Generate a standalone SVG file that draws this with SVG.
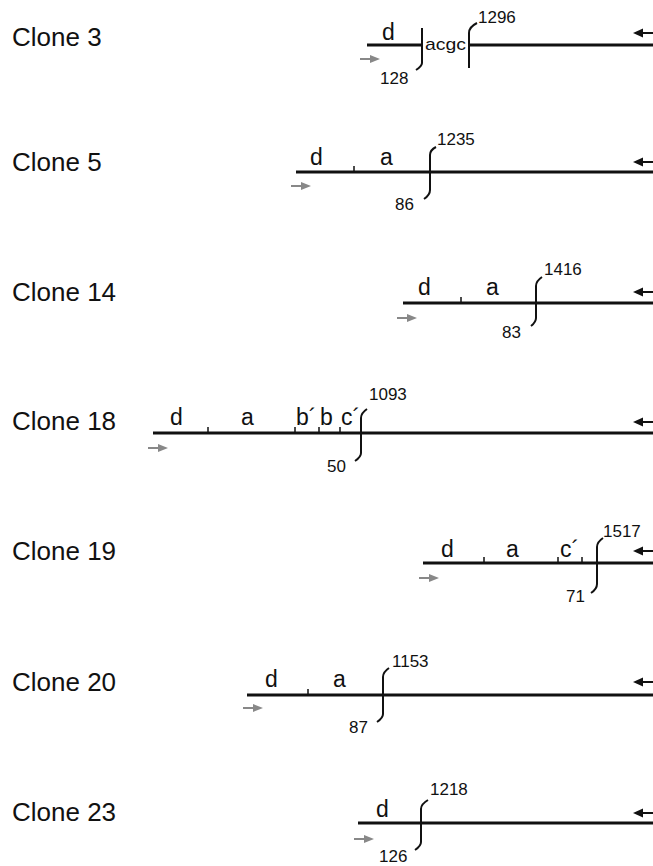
<svg xmlns="http://www.w3.org/2000/svg" xmlns:xlink="http://www.w3.org/1999/xlink" width="653" height="866" viewBox="0 0 653 866">
<style>
.lbl{font-family:"Liberation Sans",Arial,sans-serif;font-size:26px;fill:#111}
.seg{font-family:"Liberation Sans",Arial,sans-serif;font-size:23px;fill:#111}
.num{font-family:"Liberation Sans",Arial,sans-serif;font-size:17px;fill:#111}
.bb{fill:none;stroke:#111;stroke-width:3}
.tk{fill:none;stroke:#111;stroke-width:1.5}
.br{fill:none;stroke:#111;stroke-width:2}
</style>
<defs>
<g id="larr"><path d="M0,0 L10,-4.5 L10,4.5 Z" fill="#111"/><path d="M9,0 H20" stroke="#111" stroke-width="2"/></g>
<g id="rarr"><path d="M0,0 H11" stroke="#888" stroke-width="2"/><path d="M20,0 L10,-4 L10,4 Z" fill="#888"/></g>
</defs>
<rect width="653" height="866" fill="#fff"/>

<g id="clone3">
<text class="lbl" x="12" y="46">Clone 3</text>
<path class="bb" d="M367,45 H422 M469,45 H653"/>
<text class="seg" x="382" y="40">d</text>
<path class="br" d="M422,28 V63 Q422,66 416,70"/>
<text class="num" x="425" y="50" font-size="19" textLength="41" lengthAdjust="spacingAndGlyphs">acgc</text>
<path class="br" d="M477,23 Q469,27 469,33 V68"/>
<text class="num" x="478" y="23">1296</text>
<text class="num" x="380" y="84">128</text>
<use xlink:href="#rarr" x="360" y="59"/>
<use xlink:href="#larr" x="633" y="33"/>
</g>

<g id="clone5">
<text class="lbl" x="12" y="171">Clone 5</text>
<path class="bb" d="M296,172 H653"/>
<text class="seg" x="310" y="165">d</text>
<path class="tk" d="M354,172 V166"/>
<text class="seg" x="380" y="165">a</text>
<path class="br" d="M436,147 Q430,150 430,155 V190 Q430,195 424,199"/>
<text class="num" x="437" y="145">1235</text>
<text class="num" x="395" y="210">86</text>
<use xlink:href="#rarr" x="291" y="186"/>
<use xlink:href="#larr" x="633" y="162"/>
</g>

<g id="clone14">
<text class="lbl" x="12" y="301">Clone 14</text>
<path class="bb" d="M403,303 H653"/>
<text class="seg" x="418" y="295">d</text>
<path class="tk" d="M461,303 V297"/>
<text class="seg" x="486" y="295">a</text>
<path class="br" d="M542,277 Q536,281 536,286 V318 Q536,322 531,326"/>
<text class="num" x="544" y="275">1416</text>
<text class="num" x="502" y="338">83</text>
<use xlink:href="#rarr" x="397" y="318"/>
<use xlink:href="#larr" x="633" y="292"/>
</g>

<g id="clone18">
<text class="lbl" x="12" y="430">Clone 18</text>
<path class="bb" d="M153,433 H653"/>
<text class="seg" x="170" y="425">d</text>
<path class="tk" d="M208,433 V427 M295,433 V427 M319,433 V427 M340,433 V427"/>
<text class="seg" x="241" y="425">a</text>
<text class="seg" x="296" y="425">b´</text>
<text class="seg" x="320" y="425">b</text>
<text class="seg" x="341" y="425">c´</text>
<path class="br" d="M367,409 Q361,413 361,418 V453 Q361,457 355,461"/>
<text class="num" x="369" y="400">1093</text>
<text class="num" x="327" y="472">50</text>
<use xlink:href="#rarr" x="148" y="448"/>
<use xlink:href="#larr" x="633" y="422"/>
</g>

<g id="clone19">
<text class="lbl" x="12" y="560">Clone 19</text>
<path class="bb" d="M423,563 H653"/>
<text class="seg" x="441" y="557">d</text>
<path class="tk" d="M484,563 V557 M558,563 V557 M582,563 V557"/>
<text class="seg" x="506" y="557">a</text>
<text class="seg" x="560" y="557">c´</text>
<path class="br" d="M603,538 Q597,542 597,547 V584 Q597,589 591,593"/>
<text class="num" x="603" y="537">1517</text>
<text class="num" x="566" y="602">71</text>
<use xlink:href="#rarr" x="419" y="578"/>
<use xlink:href="#larr" x="633" y="551"/>
</g>

<g id="clone20">
<text class="lbl" x="12" y="691">Clone 20</text>
<path class="bb" d="M247,695 H653"/>
<text class="seg" x="265" y="687">d</text>
<path class="tk" d="M308,695 V689"/>
<text class="seg" x="333" y="687">a</text>
<path class="br" d="M389,668 Q383,672 383,677 V714 Q383,718 377,722"/>
<text class="num" x="392" y="667">1153</text>
<text class="num" x="349" y="733">87</text>
<use xlink:href="#rarr" x="243" y="708"/>
<use xlink:href="#larr" x="633" y="682"/>
</g>

<g id="clone23">
<text class="lbl" x="12" y="821">Clone 23</text>
<path class="bb" d="M358,823 H653"/>
<text class="seg" x="376" y="817">d</text>
<path class="br" d="M428,800 Q421,804 421,809 V842 Q421,846 415,850"/>
<text class="num" x="430" y="795">1218</text>
<text class="num" x="379" y="862">126</text>
<use xlink:href="#rarr" x="354" y="839"/>
<use xlink:href="#larr" x="633" y="813"/>
</g>
</svg>
